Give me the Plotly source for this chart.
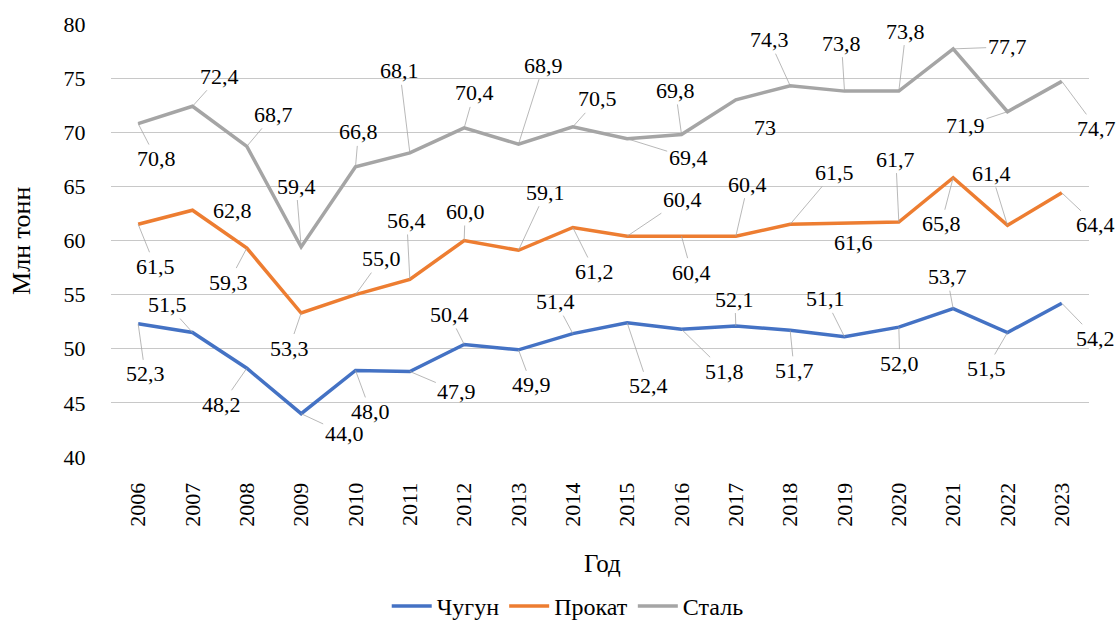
import plotly.graph_objects as go

years = [str(y) for y in range(2006, 2024)]

chugun = [52.3, 51.5, 48.2, 44.0, 48.0, 47.9, 50.4, 49.9, 51.4, 52.4,
          51.8, 52.1, 51.7, 51.1, 52.0, 53.7, 51.5, 54.2]
prokat = [61.5, 62.8, 59.3, 53.3, 55.0, 56.4, 60.0, 59.1, 61.2, 60.4,
          60.4, 60.4, 61.5, 61.6, 61.7, 65.8, 61.4, 64.4]
stal = [70.8, 72.4, 68.7, 59.4, 66.8, 68.1, 70.4, 68.9, 70.5, 69.4,
        69.8, 73, 74.3, 73.8, 73.8, 77.7, 71.9, 74.7]

series_names = ["Чугун", "Прокат", "Сталь"]
series_values = [chugun, prokat, stal]
series_colors = ["#4472C4", "#ED7D31", "#A5A5A5"]

# label offsets in pixels (dx, dy: dy positive = down)
offsets_chugun = [(7, 50), (-25, -28), (-25, 36), (43, 20), (15, 41), (47, 20),
                  (-15, -30), (13, 35), (-17, -32), (21, 63), (43, 42), (-1, -27),
                  (4, 40), (-19, -38), (1, 36), (-6, -32), (-21, 36), (34, 35)]
offsets_prokat = [(17, 42), (40, 0), (-18, 34), (-12, 35), (26, -36), (-3, -59),
                  (1, -29), (27, -58), (22, 44), (55, -37), (10, 36), (12, -52),
                  (44, -52), (9, 19), (-3, -63), (-12, 46), (-16, -52), (34, 32)]
offsets_stal = [(18, 35), (27, -30), (27, -32), (-5, -61), (3, -35), (-10, -82),
                (10, -35), (25, -79), (25, -28), (61, 19), (-6, -44), (29, 28),
                (-21, -46), (-3, -48), (7, -60), (54, -2), (-42, 14), (35, 47)]
no_leader = {("Прокат", 1), ("Прокат", 13), ("Сталь", 11)}
series_offsets = [offsets_chugun, offsets_prokat, offsets_stal]

FONT = "Tinos"
TICKFONT = "Liberation Serif"


def fmt(v):
    if isinstance(v, int):
        return str(v)
    return f"{v:.1f}".replace(".", ",")


fig = go.Figure()
for name, vals, col in zip(series_names, series_values, series_colors):
    fig.add_trace(go.Scatter(x=list(range(len(years))), y=vals, name=name, mode="lines",
                             line=dict(color=col, width=3.5)))

for name, vals, offs in zip(series_names, series_values, series_offsets):
    for i, v in enumerate(vals):
        dx, dy = offs[i]
        if (name, i) in no_leader:
            fig.add_annotation(x=i, y=v, xref="x", yref="y", text=fmt(v),
                               font=dict(family=FONT, size=22, color="black"),
                               showarrow=False, xshift=dx, yshift=-dy)
        else:
            fig.add_annotation(x=i, y=v, xref="x", yref="y", text=fmt(v),
                               font=dict(family=FONT, size=22, color="black"),
                               showarrow=True, ax=dx, ay=dy, arrowhead=0,
                               arrowwidth=0.8, arrowcolor="#a6a6a6", standoff=0)

# axis titles
fig.add_annotation(x=-0.091, y=0.499, xref="paper", yref="paper", text="Млн тонн",
                   textangle=-90, showarrow=False, xanchor="center", yanchor="middle",
                   font=dict(family=FONT, size=26, color="black"))
fig.add_annotation(x=0.503, y=-0.245, xref="paper", yref="paper", text="Год",
                   showarrow=False, xanchor="center", yanchor="middle",
                   font=dict(family=FONT, size=25, color="black"))

fig.update_layout(
    width=1118, height=627,
    margin=dict(l=111, r=29, t=24, b=170, autoexpand=False),
    paper_bgcolor="white", plot_bgcolor="white",
    font=dict(family=FONT, size=22, color="#000000"),
    showlegend=True,
    legend=dict(orientation="h", x=0.467, xanchor="center", y=-0.345, yanchor="middle",
                font=dict(family=FONT, size=24, color="black"), itemwidth=40),
)
fig.update_xaxes(range=[-0.5, len(years) - 0.5],
                 tickmode="array", tickvals=list(range(len(years))), ticktext=years,
                 tickangle=-90, showgrid=False, zeroline=False, showline=False,
                 ticks="outside", ticklen=16, tickcolor="rgba(0,0,0,0)",
                 tickfont=dict(family=TICKFONT, size=22, color="black"))
fig.update_yaxes(range=[40, 80], dtick=5, showgrid=True,
                 gridcolor="#c8c8c8", gridwidth=1.3, zeroline=False, showline=False,
                 ticks="outside", ticklen=20, tickcolor="rgba(0,0,0,0)",
                 tickfont=dict(family=TICKFONT, size=22, color="black"))

fig.write_html("out.html", config={"displayModeBar": False},
               post_script="document.body.style.margin='0';")
